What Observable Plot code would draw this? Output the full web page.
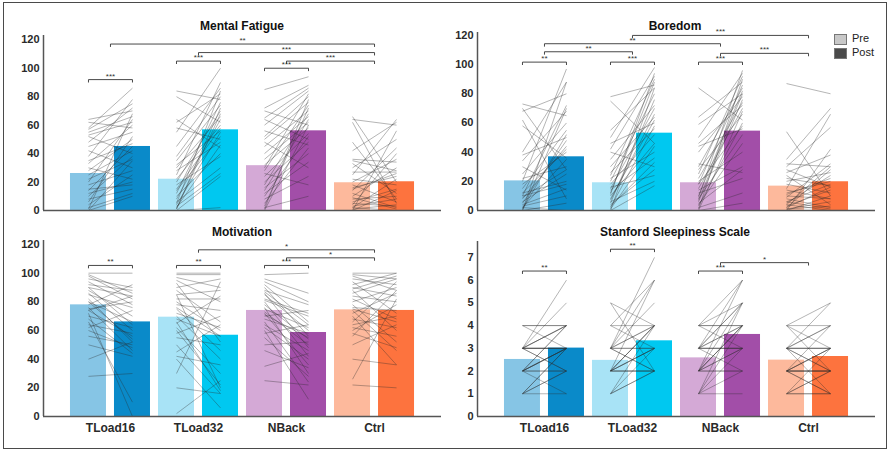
<!DOCTYPE html>
<html><head><meta charset="utf-8">
<script src="https://cdn.jsdelivr.net/npm/d3@7"></script>
<script src="https://cdn.jsdelivr.net/npm/@observablehq/plot@0.6"></script>
<style>
body{margin:0;background:#fff;font-family:"Liberation Sans",Arial,sans-serif;}
#fig{position:relative;width:890px;height:451px;overflow:hidden;background:#fff}
.frame{position:absolute;left:3px;top:2px;width:884px;height:447px;border:1.5px solid #4a4a4a;box-sizing:border-box;pointer-events:none}
.title{position:absolute;font-weight:bold;font-size:12px;color:#111;transform:translate(-50%,-50%);white-space:nowrap}
.panel{position:absolute}
.panel svg g[aria-label^="x-axis"] text{font-size:12px}
.leg{position:absolute;font-size:11px;color:#222;font-weight:500}
.sw{position:absolute;width:13px;height:11px;border:1px solid #777;box-sizing:border-box}
</style></head><body><div id="fig"><div class="frame"></div></div>
<script>
const conditions = ["TLoad16", "TLoad32", "NBack", "Ctrl"];
const phases = ["Pre", "Post"];
const preColors = ["#86c5e5", "#a8e3f6", "#d4a9d6", "#fdb99c"];
const postColors = ["#0a8ac9", "#00c8f0", "#a24ea8", "#fd733e"];
const ticks120 = [0, 20, 40, 60, 80, 100, 120];
const ticks7 = [0, 1, 2, 3, 4, 5, 6, 7];

// ---- Mental Fatigue ----
const mfPre = [26, 22, 31.5, 19.5];
const mfPost = [45, 56.7, 56, 20.2];
const mfTLoad16 = [[64,70],[62,58],[58,86],[57,75],[55,66],[53,62],[52,40],[48,72],[45,55],[42,30],[38,78],[35,47],[33,60],[30,22],[28,50],[25,42],[22,36],[20,64],[18,28],[15,18],[14,45],[12,20],[10,38],[8,15],[6,52],[4,25],[2,12],[0,35],[0,10],[1,68]];
const mfTLoad32 = [[84,78],[80,62],[64,44],[62,82],[58,50],[55,100],[45,86],[38,80],[35,74],[32,56],[30,66],[28,48],[25,90],[22,60],[20,70],[18,38],[15,58],[14,52],[12,76],[10,40],[8,64],[6,30],[5,84],[4,55],[3,26],[2,46],[1,68],[0,24],[0,2],[1,72]];
const mfNBack = [[85,94],[72,88],[70,60],[65,86],[64,50],[60,84],[56,46],[52,80],[50,76],[48,30],[45,70],[40,66],[36,62],[32,58],[30,82],[28,74],[26,18],[24,54],[20,48],[18,68],[16,40],[14,64],[12,34],[10,52],[8,24],[5,44],[3,72],[2,10],[0,60],[1,78]];
const mfCtrl = [[66,20],[64,60],[62,5],[48,8],[42,62],[36,34],[35,28],[33,12],[30,50],[27,27],[25,64],[22,18],[20,36],[18,6],[16,24],[14,44],[12,2],[10,30],[8,10],[6,15],[4,40],[3,8],[2,22],[1,4],[0,14],[0,56],[5,3],[9,1],[15,26],[2,0]];
const mfBrackets = [
  ["TLoad16 Pre", "TLoad16 Post", 92, "***"],
  ["TLoad32 Pre", "TLoad32 Post", 105, "***"],
  ["NBack Pre", "NBack Post", 100, "***"],
  ["TLoad16", "Ctrl", 117, "**"],
  ["TLoad32", "Ctrl", 111, "***"],
  ["NBack", "Ctrl", 105, "***"]
];

// ---- Boredom ----
const boPre = [20.3, 19, 19, 16.7];
const boPost = [36.8, 53, 54.4, 19.7];
const boTLoad16 = [[73,65],[70,28],[68,80],[62,8],[58,36],[40,88],[38,50],[34,68],[30,14],[25,60],[22,30],[20,97],[18,40],[15,55],[12,20],[10,72],[10,18],[8,44],[6,25],[5,48],[3,10],[2,35],[0,88],[0,5],[1,52],[4,15],[0,70],[2,0],[9,28],[12,42]];
const boTLoad32 = [[78,86],[75,46],[55,84],[50,98],[46,60],[42,92],[40,30],[35,72],[30,64],[26,56],[24,90],[22,40],[20,80],[18,52],[16,24],[15,70],[14,36],[12,88],[10,46],[8,62],[6,20],[5,76],[3,33],[2,58],[0,17],[0,84],[1,44],[4,28],[7,66],[11,94]];
const boNBack = [[84,62],[64,88],[59,80],[50,94],[46,72],[44,56],[40,78],[32,26],[30,84],[28,66],[25,92],[22,74],[20,40],[18,86],[18,58],[15,70],[12,22],[10,82],[8,52],[6,76],[5,28],[3,60],[2,12],[1,90],[0,68],[0,5],[4,46],[7,80],[9,96],[14,30]];
const boCtrl = [[87,80],[54,10],[35,70],[32,30],[30,57],[28,16],[26,38],[24,4],[20,26],[18,12],[15,66],[12,20],[10,8],[9,32],[8,2],[6,18],[5,24],[4,0],[3,14],[2,28],[1,6],[0,10],[0,42],[2,16],[6,1],[11,22],[14,8],[22,17],[4,30],[1,3]];
const boBrackets = [
  ["TLoad16 Pre", "TLoad16 Post", 101.7, "**"],
  ["TLoad32 Pre", "TLoad32 Post", 101.7, "***"],
  ["NBack Pre", "NBack Post", 101.7, "***"],
  ["NBack", "Ctrl", 107.7, "***"],
  ["TLoad16", "TLoad32", 108.8, "**"],
  ["TLoad16", "NBack", 114.3, "**"],
  ["TLoad32", "Ctrl", 120, "***"]
];

// ---- Motivation ----
const moPre = [77.9, 69.3, 74, 74.4];
const moPost = [66, 56.7, 58.6, 74];
const moTLoad16 = [[100,100],[99,86],[98,82],[96,90],[94,78],[92,88],[90,84],[88,70],[86,60],[85,76],[82,52],[80,66],[78,92],[76,46],[75,80],[74,56],[72,0],[70,62],[68,44],[66,10],[64,58],[62,74],[60,48],[56,50],[50,42],[40,52],[28,30],[74,84],[80,54],[90,64]];
const moTLoad32 = [[100,100],[99,99],[97,90],[95,80],[93,52],[90,96],[88,66],[85,20],[82,82],[80,60],[78,74],[75,46],[72,62],[70,40],[68,56],[66,18],[65,84],[62,30],[60,22],[58,70],[55,50],[50,16],[45,64],[42,36],[40,6],[30,94],[20,16],[2,25],[76,56],[85,88]];
const moNBack = [[99,100],[96,86],[94,80],[92,66],[90,56],[88,78],[86,48],[85,60],[82,72],[80,42],[78,54],[76,30],[75,62],[73,50],[72,36],[70,74],[68,58],[66,24],[64,46],[62,40],[60,12],[58,64],[55,28],[50,52],[46,34],[35,44],[25,22],[81,70],[87,64],[71,55]];
const moCtrl = [[100,100],[99,96],[98,88],[96,92],[94,72],[92,100],[90,84],[88,60],[86,96],[84,80],[82,68],[80,90],[78,52],[76,74],[74,46],[72,86],[70,36],[68,62],[66,94],[64,70],[62,56],[60,78],[58,48],[56,88],[50,64],[40,36],[26,82],[22,20],[89,98],[75,66]];
const moBrackets = [
  ["TLoad16 Pre", "TLoad16 Post", 105.4, "**"],
  ["TLoad32 Pre", "TLoad32 Post", 105.4, "**"],
  ["NBack Pre", "NBack Post", 105.4, "***"],
  ["TLoad32", "Ctrl", 116.3, "*"],
  ["NBack", "Ctrl", 110.7, "*"]
];

// ---- Stanford Sleepiness Scale ----
const ssPre = [2.51, 2.47, 2.58, 2.48];
const ssPost = [3.01, 3.33, 3.61, 2.64];
const ssTLoad16 = [[1,1],[1,2],[1,3],[2,2],[2,3],[2,3],[2,4],[2,1],[3,3],[3,3],[3,2],[3,4],[3,4],[3,5],[3,6],[4,4],[4,3],[2,2],[1,3],[3,3],[2,3],[3,2],[4,4],[2,4],[3,3],[1,2],[2,3],[3,4]];
const ssTLoad32 = [[1,2],[1,4],[2,2],[2,3],[2,4],[2,6],[2,2],[3,3],[3,4],[3,7],[3,2],[3,5],[4,4],[4,3],[5,2],[5,4],[2,4],[3,6],[2,3],[1,3],[2,2],[3,4],[2,3],[3,3],[2,4],[1,2],[3,2],[4,6]];
const ssNBack = [[1,1],[1,2],[1,3],[1,5],[2,2],[2,3],[2,4],[2,6],[2,5],[3,3],[3,4],[3,5],[3,6],[3,2],[4,4],[4,5],[4,3],[2,3],[3,4],[2,4],[3,3],[1,4],[4,6],[2,2],[3,5],[2,4],[3,3],[4,4]];
const ssCtrl = [[1,1],[1,2],[1,3],[2,2],[2,1],[2,3],[2,2],[2,4],[3,3],[3,2],[3,1],[3,4],[3,5],[4,4],[4,3],[4,5],[2,2],[3,3],[1,2],[2,2],[3,2],[2,3],[4,2],[1,1],[2,3],[3,3],[2,1],[3,4]];
const ssBrackets = [
  ["TLoad16 Pre", "TLoad16 Post", 6.4, "**"],
  ["TLoad32 Pre", "TLoad32 Post", 7.36, "**"],
  ["NBack Pre", "NBack Post", 6.4, "***"],
  ["NBack", "Ctrl", 6.77, "*"]
];

const panels = [
  {title: "Mental Fatigue", pre: mfPre, post: mfPost, pairs: [mfTLoad16, mfTLoad32, mfNBack, mfCtrl], brackets: mfBrackets, yTicks: ticks120, yMax: 123,
   box: {left: 0, top: 0, width: 445, height: 225, ml: 43, mr: 4, mt: 35, mb: 15}, xLabels: false, tx: 242, ty: 26},
  {title: "Boredom", pre: boPre, post: boPost, pairs: [boTLoad16, boTLoad32, boNBack, boCtrl], brackets: boBrackets, yTicks: ticks120, yMax: 122,
   box: {left: 445, top: 0, width: 445, height: 225, ml: 32, mr: 15, mt: 32, mb: 15}, xLabels: false, tx: 675, ty: 26},
  {title: "Motivation", pre: moPre, post: moPost, pairs: [moTLoad16, moTLoad32, moNBack, moCtrl], brackets: moBrackets, yTicks: ticks120, yMax: 122.8,
   box: {left: 0, top: 225, width: 445, height: 226, ml: 43, mr: 4, mt: 15, mb: 35}, xLabels: true, tx: 242, ty: 232},
  {title: "Stanford Sleepiness Scale", pre: ssPre, post: ssPost, pairs: [ssTLoad16, ssTLoad32, ssNBack, ssCtrl], brackets: ssBrackets, yTicks: ticks7, yMax: 7.7,
   box: {left: 445, top: 225, width: 445, height: 226, ml: 32, mr: 15, mt: 16, mb: 35}, xLabels: true, tx: 675, ty: 232}
];

const fig = document.getElementById("fig");
const X0 = -0.761, X1 = 3.761;
const HW = 18 / 88;
const pos = (i, ph) => i + (ph === "Pre" ? -0.25 : ph === "Post" ? 0.25 : 0);
const keyPos = k => { const [c, ph] = k.split(" "); return pos(conditions.indexOf(c), ph); };

for (const p of panels) {
  const b = p.box;
  const bars = [];
  conditions.forEach((c, i) => {
    bars.push({i, ph: "Pre", v: p.pre[i], fill: preColors[i]});
    bars.push({i, ph: "Post", v: p.post[i], fill: postColors[i]});
  });
  const links = [];
  p.pairs.forEach((arr, i) => arr.forEach(([a, v]) => links.push({i, a, b: v})));
  const plotH = b.height - b.mt - b.mb;
  const tickD = 2.5 * p.yMax / plotH;
  const bpts = [], blabels = [];
  p.brackets.forEach(([a, z, y, lab], j) => {
    const xa = keyPos(a), xb = keyPos(z);
    bpts.push({j, x: xa, y: y - tickD}, {j, x: xa, y}, {j, x: xb, y}, {j, x: xb, y: y - tickD});
    blabels.push({x: (xa + xb) / 2, y, lab});
  });
  const svg = Plot.plot({
    width: b.width, height: b.height,
    marginLeft: b.ml, marginRight: b.mr, marginTop: b.mt, marginBottom: b.mb,
    x: p.xLabels
      ? {domain: [X0, X1], ticks: [0, 1, 2, 3], tickFormat: i => conditions[i], tickSize: 0, tickPadding: 7, label: null}
      : {domain: [X0, X1], axis: null},
    y: {domain: [0, p.yMax], ticks: p.yTicks, tickSize: 0, tickPadding: 4, label: null},
    color: {type: "identity"},
    style: {fontFamily: "'Liberation Sans', Arial, sans-serif", fontSize: "11px", fontWeight: "bold", color: "#2a2a2a", background: "transparent", overflow: "visible"},
    marks: [
      Plot.rect(bars, {x1: d => pos(d.i, d.ph) - HW, x2: d => pos(d.i, d.ph) + HW, y1: 0, y2: "v", fill: "fill"}),
      Plot.link(links, {x1: d => pos(d.i, "Pre"), y1: "a", x2: d => pos(d.i, "Post"), y2: "b", stroke: "#2b2b2b", strokeOpacity: 0.5, strokeWidth: 0.7}),
      Plot.ruleY([0], {stroke: "#555", strokeWidth: 1.5}),
      Plot.ruleX([X0], {stroke: "#555", strokeWidth: 1.5}),
      Plot.line(bpts, {x: "x", y: "y", z: "j", stroke: "#333", strokeWidth: 0.9}),
      Plot.text(blabels, {x: "x", y: "y", text: "lab", dy: -1, lineAnchor: "bottom", fontSize: 8, fontWeight: "normal", fill: "#333"})
    ]
  });
  const wrap = document.createElement("div");
  wrap.className = "panel";
  wrap.style.left = b.left + "px";
  wrap.style.top = b.top + "px";
  wrap.appendChild(svg);
  fig.appendChild(wrap);
  const t = document.createElement("div");
  t.className = "title";
  t.textContent = p.title;
  t.style.left = p.tx + "px";
  t.style.top = p.ty + "px";
  fig.appendChild(t);
}

// legend
const legendColors = ["#c8c8c8", "#4a4a4a"];
phases.forEach((ph, k) => {
  const sw = document.createElement("div");
  sw.className = "sw";
  sw.style.left = "834px";
  sw.style.top = (34 + k * 14) + "px";
  sw.style.background = legendColors[k];
  fig.appendChild(sw);
  const lab = document.createElement("div");
  lab.className = "leg";
  lab.textContent = ph;
  lab.style.left = "852px";
  lab.style.top = (32 + k * 14) + "px";
  fig.appendChild(lab);
});
</script></body></html>
